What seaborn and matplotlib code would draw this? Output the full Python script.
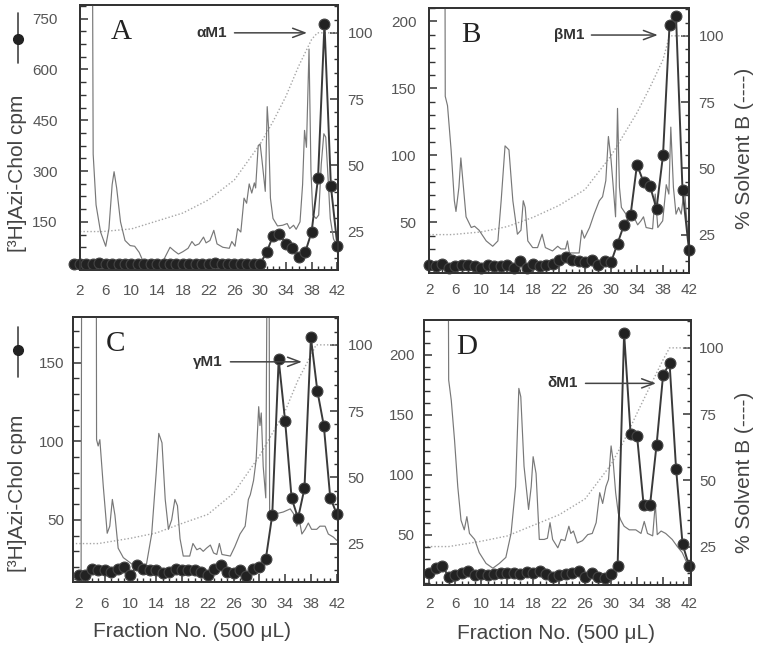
import matplotlib
matplotlib.use("Agg")
import matplotlib.pyplot as plt
import pandas as pd
import seaborn as sns
from matplotlib.lines import Line2D
from matplotlib.ticker import MultipleLocator

# [3H]Azi-Chol cpm per fraction (filled circles)
fractions_a = list(range(1, 43))
cpm_a = [26, 25, 25, 26, 30, 25, 26, 25, 25, 25, 26, 25, 25, 25, 25, 25, 25, 25, 25, 25,
         25, 26, 28, 25, 25, 25, 25, 25, 25, 26,
         60, 108, 115, 85, 72, 47, 60, 120, 280, 735, 255, 80]

fractions_bcd = list(range(2, 43))
cpm_b = [18, 17, 19, 16, 17, 18, 18, 17, 16, 18, 17, 17, 18, 16, 21, 16, 19, 17, 18, 19,
         22, 24, 22, 21, 20, 22, 18, 21, 20,
         34, 48, 55, 93, 80, 77, 60, 100, 197, 204, 74, 29]
cpm_c = [15, 15, 19, 18, 18, 17, 19, 20, 15, 21, 19, 18, 18, 16, 17, 19, 18, 18, 18, 17,
         15, 19, 21, 17, 16, 18, 14, 19, 20,
         25, 53, 152, 113, 64, 51, 70, 166, 132, 110, 64, 54]
cpm_d = [18, 22, 24, 15, 16, 18, 20, 16, 17, 16, 17, 18, 18, 18, 17, 19, 18, 20, 17, 15,
         16, 17, 18, 20, 15, 18, 15, 14, 17,
         24, 218, 134, 132, 75, 75, 125, 183, 193, 105, 42, 24]

# absorbance trace in left-axis units (fraction, value)
trace_a = [(2.0, 900), (3.95, 900), (4.05, 350), (4.5, 200), (5.2, 120), (6.0, 78), (6.5, 130),
           (7.0, 260), (7.3, 298), (7.7, 250), (8.3, 150), (9.0, 95), (9.8, 80), (10.5, 78),
           (11.2, 60), (12.0, 25), (13.0, 15), (14.5, 15), (15.2, 45), (16.0, 75), (16.6, 65),
           (17.3, 55), (18.0, 62), (18.8, 72), (19.4, 92), (19.9, 80), (20.5, 85), (21.2, 105),
           (21.6, 88), (22.2, 95), (22.8, 125), (23.3, 85), (24.2, 75), (25.2, 72), (25.6, 92),
           (26.1, 78), (26.5, 130), (27.0, 120), (27.5, 220), (27.9, 205), (28.3, 262),
           (28.7, 235), (29.1, 265), (29.3, 250), (29.7, 375), (30.0, 380), (30.3, 330),
           (30.8, 240), (31.1, 490), (31.3, 430), (31.6, 220), (32.0, 160), (32.7, 138),
           (33.5, 140), (34.2, 145), (34.6, 130), (35.2, 140), (35.6, 128), (36.2, 150),
           (36.6, 260), (36.9, 420), (37.2, 370), (37.6, 660), (37.9, 300), (38.2, 170),
           (38.7, 160), (39.1, 170), (39.5, 320), (39.9, 410), (40.2, 400), (40.5, 300),
           (40.9, 160), (41.4, 100), (42.0, 75)]
trace_b = [(2.0, 260), (4.45, 260), (4.5, 144), (4.85, 137), (5.4, 104), (5.9, 66), (6.15, 58),
           (6.6, 76), (6.9, 98), (7.3, 76), (7.7, 54), (8.5, 46), (9.0, 47), (9.7, 44),
           (10.8, 36), (11.8, 32), (12.6, 36), (13.1, 66), (13.7, 107), (14.3, 104), (14.9, 66),
           (15.6, 41), (16.15, 44), (16.5, 66), (16.8, 61), (17.2, 36), (17.95, 31), (18.7, 31),
           (19.4, 41), (19.9, 31), (21.0, 28.5), (21.8, 32), (22.3, 30), (23.0, 30), (23.3, 36),
           (23.6, 27), (25.1, 27), (25.5, 44), (25.9, 38), (26.7, 46), (27.4, 56), (28.2, 66),
           (28.7, 69), (29.2, 81), (29.6, 114), (30.0, 97), (30.35, 76), (30.7, 54), (31.0, 135),
           (31.3, 76), (31.6, 61), (32.3, 56), (33.3, 56), (34.1, 48), (34.6, 51), (35.0, 54),
           (35.4, 46), (36.4, 45), (36.8, 71), (37.2, 46), (37.95, 51), (38.5, 78), (38.9, 71),
           (39.2, 121), (39.6, 76), (40.0, 56), (40.4, 61), (40.8, 56), (41.3, 76), (41.8, 41),
           (42.0, 36)]
trace_c = [(1.0, 12), (2.35, 12), (2.45, 250), (4.7, 250), (4.75, 101), (5.0, 97), (5.26, 101),
           (5.8, 71), (6.4, 41.5), (6.8, 46), (7.2, 63), (7.6, 53), (8.1, 32), (8.9, 26),
           (10.2, 22), (11.5, 21), (12.5, 22), (13.3, 41), (14.0, 80), (14.4, 105), (14.9, 99),
           (15.4, 63), (15.9, 44), (16.4, 50), (16.9, 63), (17.3, 59), (17.7, 38), (18.2, 27),
           (19.2, 27), (19.7, 35), (20.3, 31), (20.8, 32), (21.3, 30), (21.8, 32), (22.4, 34),
           (22.9, 29), (23.4, 28), (23.8, 35), (24.2, 28), (25.5, 27), (26.2, 33), (27.0, 41),
           (27.8, 46), (28.3, 63), (28.6, 66), (29.1, 75), (29.5, 88), (29.9, 122), (30.1, 110),
           (30.3, 118), (30.6, 84), (31.0, 64), (31.25, 250), (31.5, 250), (31.6, 52),
           (31.9, 54), (32.7, 54), (33.7, 55), (34.8, 57), (35.3, 54), (35.8, 46), (36.2, 50),
           (36.6, 41), (37.1, 44), (37.6, 48), (38.1, 44), (38.9, 44), (39.4, 46), (40.2, 46),
           (40.7, 41), (41.5, 39), (42.0, 37)]
trace_d = [(1.2, 260), (4.95, 260), (5.0, 179), (5.4, 162), (5.9, 129), (6.4, 90), (6.9, 62),
           (7.4, 54), (7.8, 65), (8.2, 51), (9.0, 46), (9.7, 35), (10.75, 26), (11.8, 22),
           (12.8, 26), (13.8, 31), (14.6, 51), (15.3, 90), (15.8, 172), (16.1, 165), (16.6, 107),
           (17.3, 71), (17.7, 90), (18.0, 115), (18.45, 101), (18.95, 46), (19.7, 46),
           (20.2, 47), (20.6, 60), (21.0, 46), (21.8, 39), (22.3, 46), (22.9, 45), (23.5, 57),
           (23.8, 51), (24.2, 53), (24.8, 43), (25.6, 45), (26.4, 50), (27.1, 51), (27.7, 60),
           (28.25, 85), (28.7, 76), (29.2, 90), (29.6, 96), (30.0, 124), (30.3, 112), (30.7, 85),
           (31.1, 68), (31.5, 62), (32.0, 57), (32.8, 54), (33.8, 54), (34.6, 51), (35.1, 61),
           (35.6, 51), (36.4, 49), (36.8, 76), (37.1, 50), (37.7, 53), (38.4, 51), (39.4, 46),
           (40.2, 40), (40.95, 35), (41.7, 26), (42.3, 22)]

# % solvent B gradient (dotted line, right axis)
grad_a = [(2, 25), (5.5, 25), (10, 26), (14, 29), (18, 32), (22, 37), (26, 44.5), (30, 58),
          (32, 66.5), (34, 76), (36, 87.5), (38, 97.5), (38.9, 100), (42.3, 100)]
grad_b = [(2, 25), (5.5, 25), (10, 26), (14, 28), (18, 31.5), (22, 36), (26, 42), (30, 54.7),
          (34, 71), (36, 80.6), (38, 91), (39, 100), (42.3, 100)]
grad_c = [(1, 25), (5, 25), (10, 27), (14, 29), (18, 32.6), (22, 36), (26, 44), (30, 58),
          (34, 75), (36, 86.7), (38, 96), (38.8, 100), (42.3, 100)]
grad_d = [(1.2, 25), (5, 25), (10, 27), (14, 29), (18, 33), (22, 37), (26, 43), (30, 56),
          (32, 65), (34, 75.4), (36, 85.5), (38, 95.5), (39, 100), (42.3, 100)]

letters = ["A", "B", "C", "D"]
tags = ["\u03b1M1", "\u03b2M1", "\u03b3M1", "\u03b4M1"]
cpm_ticks = [[150, 300, 450, 600, 750], [50, 100, 150, 200], [50, 100, 150], [50, 100, 150, 200]]

sns.set_style("ticks")
plt.rcParams["font.family"] = ["Liberation Sans", "DejaVu Sans"]
plt.rcParams["xtick.direction"] = "in"
plt.rcParams["ytick.direction"] = "in"

INK = "#333333"
TXT = "#555555"


def draw_panel(fig, rect, frac, cpm, trace, grad, xlim, ylim, yticks, yminor, letter, tag,
               arrow, pads):
    ax = fig.add_axes(rect)
    ax2 = ax.twinx()

    gdf = pd.DataFrame(grad, columns=["fraction", "solvent"])
    sns.lineplot(data=gdf, x="fraction", y="solvent", ax=ax2, estimator=None, sort=False,
                 color="#a6a6a6", lw=1.0, ls=(0, (1, 1.5)))

    tdf = pd.DataFrame(trace, columns=["fraction", "signal"])
    sns.lineplot(data=tdf, x="fraction", y="signal", ax=ax, estimator=None, sort=False,
                 color="#787878", lw=0.85)

    cdf = pd.DataFrame({"fraction": frac, "cpm": cpm})
    sns.lineplot(data=cdf, x="fraction", y="cpm", ax=ax, estimator=None, color="#3a3a3a",
                 lw=1.4, marker="o", markersize=7.8, markerfacecolor="#222222",
                 markeredgecolor="#444444", markeredgewidth=0.8, clip_on=False)

    ax.set_zorder(ax2.get_zorder() + 1)
    ax.patch.set_visible(False)

    ax.set_xlim(xlim)
    ax.set_ylim(ylim)
    ax2.set_ylim(10.5, 110.5)
    ax.set_xlabel("")
    ax.set_ylabel("")
    ax2.set_xlabel("")
    ax2.set_ylabel("")

    ax.set_xticks(list(range(2, 43, 4)))
    ax.xaxis.set_minor_locator(MultipleLocator(1))
    ax.set_yticks(yticks)
    ax.yaxis.set_minor_locator(MultipleLocator(yminor))
    ax2.set_yticks([25, 50, 75, 100])
    ax2.yaxis.set_minor_locator(MultipleLocator(5))

    ax.tick_params(axis="x", which="major", direction="in", length=6, width=1.1,
                   pad=pads[0], labelsize=11, labelcolor=TXT, color=INK, top=False)
    ax.tick_params(axis="x", which="minor", direction="in", length=3, width=1,
                   color=INK, top=False)
    ax.tick_params(axis="y", which="major", direction="in", length=6, width=1.1,
                   pad=pads[1], labelsize=11, labelcolor=TXT, color=INK)
    ax.tick_params(axis="y", which="minor", direction="in", length=4, width=1, color=INK)
    ax2.tick_params(axis="y", which="major", direction="in", length=6, width=1.1,
                    pad=pads[2], labelsize=11, labelcolor=TXT, color=INK)
    ax2.tick_params(axis="y", which="minor", direction="in", length=3, width=1, color=INK)

    for a in (ax, ax2):
        for s in a.spines.values():
            s.set_visible(True)
            s.set_color(INK)
            s.set_linewidth(1.3)

    ax.text(0.16, 0.9, letter, transform=ax.transAxes, ha="center", va="center",
            fontsize=21, family="Liberation Serif", color="#222222")
    ax.annotate(tag, xy=(arrow[1], arrow[2]), xycoords="axes fraction",
                xytext=(arrow[0], arrow[2]), textcoords="axes fraction",
                ha="right", va="center", fontsize=11, fontweight="bold", color="#333333",
                arrowprops=dict(arrowstyle="->,head_length=0.8,head_width=0.3",
                                color="#444444", lw=1.1, shrinkA=3, shrinkB=0))
    return ax


fig = plt.figure(figsize=(7.72, 6.51), dpi=100)

draw_panel(fig, [0.1036, 0.5853, 0.3342, 0.4070], fractions_a, cpm_a, trace_a, grad_a,
           (2.0, 42.1), (8, 790), cpm_ticks[0], 37.5, letters[0], tags[0],
           (0.57, 0.88, 0.895), (10, 16, 7))
draw_panel(fig, [0.5557, 0.5806, 0.3368, 0.4071], fractions_bcd, cpm_b, trace_b, grad_b,
           (2.0, 42.0), (12, 210), cpm_ticks[1], 10, letters[1], tags[1],
           (0.596, 0.88, 0.898), (7, 9, 7))
draw_panel(fig, [0.0946, 0.1060, 0.3432, 0.4070], fractions_bcd, cpm_c, trace_c, grad_c,
           (1.1, 42.2), (10.5, 179), cpm_ticks[2], 10, letters[2], tags[2],
           (0.566, 0.864, 0.831), (11, 6, 7))
draw_panel(fig, [0.5492, 0.1014, 0.3459, 0.4070], fractions_bcd, cpm_d, trace_d, grad_d,
           (1.2, 42.3), (8, 229), cpm_ticks[3], 10, letters[3], tags[3],
           (0.577, 0.869, 0.761), (9, 7, 6))

# left axis titles with the circle-and-line key
for yc, y0, y1, yl in [(0.940, 0.980, 0.903, 0.734), (0.462, 0.498, 0.421, 0.242)]:
    fig.add_artist(Line2D([0.023, 0.023], [y1, y0], transform=fig.transFigure,
                          color="#444444", lw=1.2))
    fig.add_artist(Line2D([0.023], [yc], transform=fig.transFigure, marker="o",
                          markersize=7, color="#222222", lw=0))
    fig.text(0.023, yl, "[\u00b3H]Azi-Chol cpm", rotation=90, ha="center", va="center",
             fontsize=15, color="#444444")

for yl in (0.772, 0.275):
    fig.text(0.9645, yl, "% Solvent B (----)", rotation=90, ha="center", va="center",
             fontsize=15, color="#444444")

fig.text(0.249, 0.030, "Fraction No. (500 \u03bcL)", ha="center", va="center",
         fontsize=15, color="#444444")
fig.text(0.720, 0.027, "Fraction No. (500 \u03bcL)", ha="center", va="center",
         fontsize=15, color="#444444")

fig.savefig("out.png", dpi=100)
plt.close(fig)
